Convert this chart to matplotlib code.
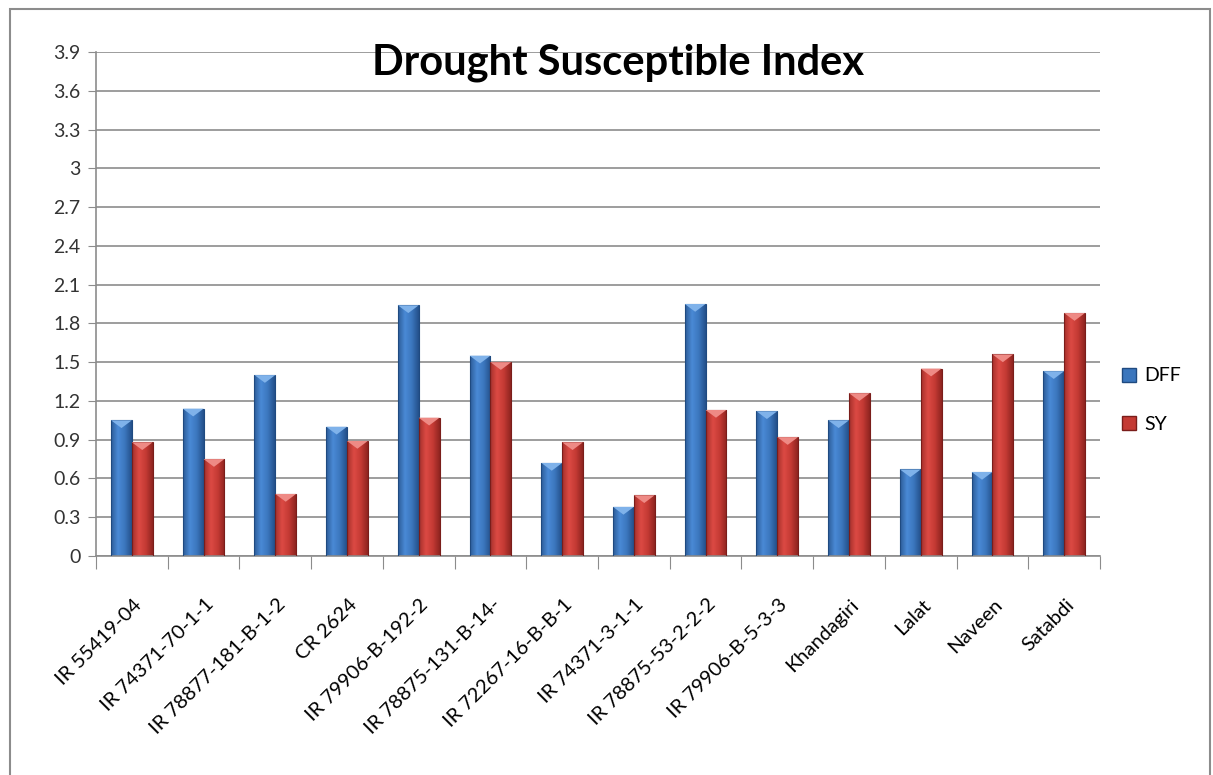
import numpy as np
import matplotlib
matplotlib.use("Agg")
import matplotlib.pyplot as plt
from matplotlib.colors import LinearSegmentedColormap
from matplotlib.patches import Rectangle, Patch
from matplotlib.ticker import FuncFormatter
from matplotlib.transforms import ScaledTranslation

plt.rcParams['font.family'] = ['Lato', 'DejaVu Sans']

# Drought susceptibility index per genotype
genotypes = ["IR 55419-04", "IR 74371-70-1-1", "IR 78877-181-B-1-2", "CR 2624",
             "IR 79906-B-192-2", "IR 78875-131-B-14-", "IR 72267-16-B-B-1",
             "IR 74371-3-1-1", "IR 78875-53-2-2-2", "IR 79906-B-5-3-3",
             "Khandagiri", "Lalat", "Naveen", "Satabdi"]
dff = [1.05, 1.14, 1.40, 1.00, 1.94, 1.55, 0.72, 0.38, 1.95, 1.12, 1.05, 0.67, 0.65, 1.43]
sy = [0.88, 0.75, 0.48, 0.89, 1.07, 1.50, 0.88, 0.47, 1.13, 0.92, 1.26, 1.45, 1.56, 1.88]
yticks = np.arange(0, 4.0, 0.3)

blue_map = LinearSegmentedColormap.from_list("b", ["#2c5c98", "#4a8ad6", "#3b76bd", "#24508a"])
red_map = LinearSegmentedColormap.from_list("r", ["#a5302b", "#dc4a44", "#c43a34", "#8e2420"])

fig = plt.figure(figsize=(12.13, 7.75), dpi=100)
ax = fig.add_axes([96 / 1213, 1 - 556 / 775, (1100 - 96) / 1213, (556 - 52) / 775])

# outer chart border
fig.patches.append(Rectangle((10 / 1213, -0.05), 1200 / 1213, 1.05 - 9 / 775,
                             transform=fig.transFigure, fill=False,
                             edgecolor="#8c8c8c", linewidth=1.5, zorder=0))

x = np.arange(len(genotypes))
w = 0.29
grad = np.linspace(0, 1, 64).reshape(1, -1)


def shaded_bars(xs, vals, cmap, edge, cap):
    bars = ax.bar(xs, vals, width=w, color="none", edgecolor=edge, linewidth=0.8, zorder=3)
    for b in bars:
        x0, y0, bw, bh = b.get_x(), b.get_y(), b.get_width(), b.get_height()
        im = ax.imshow(grad, cmap=cmap, aspect="auto", extent=(x0, x0 + bw, y0, y0 + bh),
                       zorder=2, interpolation="bicubic")
        im.set_clip_path(b)
        # light bevel cap on top of each bar
        ch = 0.06
        ax.fill([x0, x0 + bw, x0 + bw / 2], [y0 + bh, y0 + bh, y0 + bh - ch],
                color=cap, zorder=4, linewidth=0)
    return bars


shaded_bars(x - w / 2, dff, blue_map, "#1f4a80", "#7fb2ea")
shaded_bars(x + w / 2, sy, red_map, "#7a1d1a", "#ee8a85")

ax.set_xlim(-0.5, len(genotypes) - 0.5)
ax.set_ylim(0, 3.9)
ax.set_yticks(yticks)
ax.yaxis.set_major_formatter(FuncFormatter(lambda v, p: f"{v:.1f}".rstrip("0").rstrip(".")))
ax.tick_params(axis="y", labelsize=14, length=6, color="#8c8c8c", pad=5, labelcolor="#333333")
ax.grid(axis="y", color="#8c8c8c", linewidth=1.2, zorder=0)
ax.set_axisbelow(True)

ax.set_xticks(np.arange(-0.5, len(genotypes), 1.0))
ax.set_xticklabels([])
ax.tick_params(axis="x", length=9, color="#8c8c8c")
ax.set_xticks(x, minor=True)
ax.set_xticklabels(genotypes, minor=True, rotation=45, ha="right", va="center",
                   rotation_mode="anchor", fontsize=14.5)
ax.tick_params(axis="x", which="minor", length=0, pad=33)
shift = ScaledTranslation(5 / 72, 0, fig.dpi_scale_trans)
for lbl in ax.get_xticklabels(minor=True):
    lbl.set_transform(lbl.get_transform() + shift)

for s in ["top", "right"]:
    ax.spines[s].set_visible(False)
for s in ["left", "bottom"]:
    ax.spines[s].set_color("#8c8c8c")
    ax.spines[s].set_linewidth(1.2)

fig.text(618 / 1213, 1 - 63 / 775, "Drought Susceptible Index", ha="center", va="center",
         fontsize=30, fontweight="bold")

handles = [Patch(facecolor="#3b76bd", edgecolor="#1f4a80"),
           Patch(facecolor="#c43a34", edgecolor="#7a1d1a")]
fig.legend(handles, ["DFF", "SY"], loc="center left", bbox_to_anchor=(1104 / 1213, 1 - 400 / 775),
           frameon=False, fontsize=14, handlelength=0.75, handleheight=0.75,
           labelspacing=1.6, handletextpad=0.4)

fig.savefig("out.png", dpi=100)
